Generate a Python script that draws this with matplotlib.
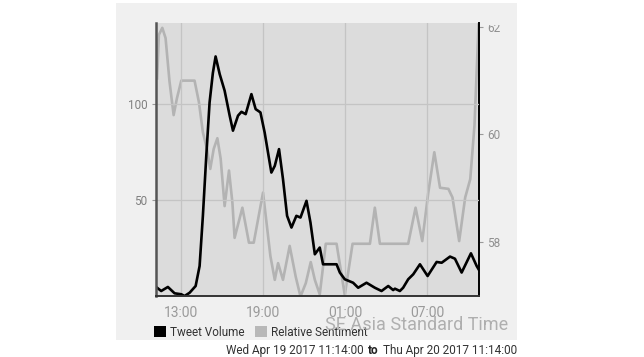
import matplotlib
matplotlib.use("Agg")
import matplotlib.pyplot as plt
from matplotlib.patches import Rectangle, Patch

plt.rcParams['font.family'] = ['Roboto', 'DejaVu Sans']

# Time axis in hours since Wed 00:00 (25 = Thu 01:00)
vol_hours = [11.23, 11.53, 12.02, 12.51, 13.0, 13.24, 13.61, 14.05, 14.34, 14.58,
             14.83, 15.07, 15.31, 15.51, 15.81, 16.17, 16.54, 16.78, 17.15, 17.40,
             17.71, 18.13, 18.44, 18.79, 19.10, 19.59, 19.84, 20.15, 20.44, 20.74,
             21.06, 21.42, 21.72, 22.16, 22.45, 22.77, 23.13, 23.37, 23.86, 24.36,
             24.60, 24.96, 25.57, 25.94, 26.55, 27.16, 27.65, 28.14, 28.50, 28.63,
             28.99, 29.23, 29.60, 29.97, 30.46, 31.02, 31.68, 32.05, 32.66, 33.02,
             33.51, 34.19, 34.61, 34.75]
tweet_volume = [4.3, 2.6, 4.7, 1.4, 0.9, 0.0, 1.7, 5.2, 15.6, 41.7,
                73.0, 100.7, 116.0, 124.6, 115.4, 106.8, 93.8, 86.0, 93.8, 95.8,
                94.6, 105.0, 97.2, 95.5, 85.0, 64.2, 67.7, 76.4, 60.8, 41.7,
                35.6, 41.7, 40.8, 49.5, 38.2, 21.7, 25.2, 16.5, 16.5, 16.5,
                12.2, 8.7, 6.9, 4.3, 6.9, 4.3, 2.6, 5.2, 3.1, 3.8,
                2.6, 4.3, 8.7, 11.3, 16.5, 10.4, 17.7, 17.3, 20.5, 19.4,
                12.2, 22.2, 15.6, 13.9]

sent_hours = [11.23, 11.36, 11.61, 11.85, 12.14, 12.44, 12.68, 13.0, 13.97, 14.29,
              14.58, 14.88, 15.12, 15.37, 15.64, 15.88, 16.17, 16.49, 16.74, 16.90,
              17.47, 17.95, 18.30, 18.98, 19.52, 19.84, 20.08, 20.44, 20.93, 21.37,
              21.72, 22.11, 22.47, 22.77, 23.13, 23.57, 24.36, 24.96, 25.53, 26.80,
              27.16, 27.53, 29.60, 30.14, 30.63, 31.07, 31.51, 31.93, 32.54, 32.84,
              33.33, 33.77, 34.14, 34.45, 34.75]
sentiment = [61.04, 61.85, 61.98, 61.79, 60.98, 60.36, 60.67, 61.0, 61.0, 60.6,
             60.04, 59.73, 59.36, 59.73, 59.93, 59.55, 58.67, 59.33, 58.73, 58.08,
             58.64, 57.99, 57.99, 58.92, 57.74, 57.30, 57.61, 57.30, 57.93, 57.36,
             56.99, 57.24, 57.63, 57.30, 57.03, 57.97, 57.97, 57.02, 57.97, 57.97,
             58.64, 57.97, 57.97, 58.64, 58.02, 58.92, 59.67, 59.01, 58.99, 58.83,
             58.02, 58.83, 59.17, 60.17, 62.04]

x_ticks = [13, 19, 25, 31]
x_labels = ["13:00", "19:00", "01:00", "07:00"]
vol_ticks = [50, 100]
sent_ticks = [58, 60, 62]

W, H = 644, 357
fig = plt.figure(figsize=(W / 100, H / 100), dpi=100)
fig.patch.set_facecolor("white")

# light panel behind the chart
fig.patches.append(Rectangle((116 / W, 1 - 340 / H), 401 / W, 337 / H,
                             transform=fig.transFigure, facecolor="#f0f0f0",
                             edgecolor="none", zorder=0))

rect = [156 / W, 1 - 296 / H, 323 / W, 273 / H]
ax = fig.add_axes(rect)
ax2 = ax.twinx()
ax.set_zorder(2)
ax.patch.set_visible(False)
ax2.set_zorder(1)
ax2.patch.set_visible(True)
ax2.patch.set_facecolor("#dcdcdc")

ax2.plot(sent_hours, sentiment, color="#b3b3b3", lw=1.9, solid_joinstyle="round")
ax.plot(vol_hours, tweet_volume, color="black", lw=1.9, solid_joinstyle="round")

ax.set_xlim(11.15, 34.78)
ax.set_ylim(0, 142)
ax2.set_ylim(57, 62.07)

ax.set_xticks(x_ticks)
ax.set_xticklabels(x_labels)
ax.set_yticks(vol_ticks)
ax2.set_yticks(sent_ticks)

ax.grid(True, color="#c4c4c4", lw=0.9)
ax.tick_params(axis="x", length=0, pad=7, labelsize=10, labelcolor="#9a9a9a")
ax.tick_params(axis="y", length=3, width=0.8, color="#999999", pad=3,
               labelsize=8.5, labelcolor="#808080")
ax2.tick_params(axis="y", length=3, width=0.8, color="#999999", pad=3,
                labelsize=8.5, labelcolor="#909090")

for a in (ax, ax2):
    a.spines["top"].set_visible(False)
ax.spines["left"].set_color("#555555")
ax.spines["left"].set_linewidth(1.8)
ax.spines["bottom"].set_color("#333333")
ax.spines["bottom"].set_linewidth(1.4)
ax.spines["right"].set_visible(False)
ax2.spines["left"].set_visible(False)
ax2.spines["bottom"].set_visible(False)
ax2.spines["right"].set_color("black")
ax2.spines["right"].set_linewidth(1.4)

# top label on the right axis is cut off by the chart top: cover its upper part
fig.add_artist(Rectangle((483 / W, 1 - 24.5 / H), 34 / W, 21.5 / H,
                         transform=fig.transFigure, facecolor="#f0f0f0",
                         edgecolor="none", zorder=10))

handles = [Patch(facecolor="black", edgecolor="none", label="Tweet Volume"),
           Patch(facecolor="#b8b8b8", edgecolor="none", label="Relative Sentiment")]
fig.legend(handles=handles, loc="center left", bbox_to_anchor=(154 / W, 1 - 332 / H),
           ncol=2, frameon=False, fontsize=8.5, handlelength=1.0, handleheight=1.0,
           handletextpad=0.35, columnspacing=0.9, borderpad=0, borderaxespad=0,
           labelcolor="#333333")

fig.text(508 / W, 1 - 325 / H, "SE Asia Standard Time", ha="right", va="center",
         fontsize=13, color="#a8a8a8", alpha=0.9, zorder=11)

base_y = 1 - 354 / H
t3 = fig.text(517 / W, base_y, "Thu Apr 20 2017 11:14:00", ha="right",
              va="baseline", fontsize=8.5, color="#333333")
a2 = ax.annotate("to", xy=(0, base_y), xycoords=(t3, "figure fraction"),
                 xytext=(-3, 0), textcoords="offset points", ha="right",
                 va="baseline", fontsize=8.5, fontweight="bold",
                 color="#222222", annotation_clip=False)
ax.annotate("Wed Apr 19 2017 11:14:00", xy=(0, base_y),
            xycoords=(a2, "figure fraction"), xytext=(-3, 0),
            textcoords="offset points", ha="right", va="baseline", fontsize=8.5,
            color="#333333", annotation_clip=False)

fig.savefig("out.png", dpi=100)
